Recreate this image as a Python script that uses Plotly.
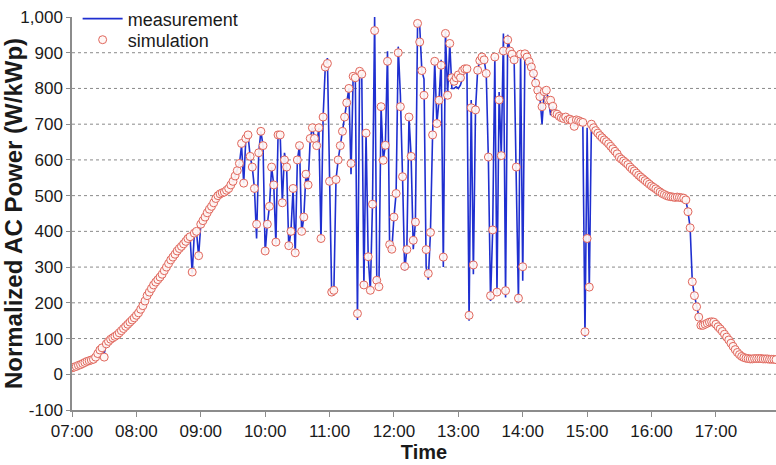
import numpy as np
import pandas as pd
import plotly.graph_objects as go

# ---------------- data ----------------
day = "2015-06-01"
sample_start = "07:00"
sample_step_min = 2

# normalized AC power, measurement (W/kWp), one value every 2 minutes from 07:00
measurement = [
    18, 20, 22, 25, 27, 30, 33, 36, 38, 40,          # 07:00
    42, 48, 58, 68, 74, 58, 85, 92, 98, 102,         # 07:20
    106, 110, 116, 122, 128, 134, 140, 146, 152, 158,  # 07:40
    165, 172, 182, 192, 205, 220, 230, 240, 250, 258,  # 08:00
    265, 272, 280, 290, 300, 310, 320, 328, 336, 345,  # 08:20
    352, 358, 365, 372, 380, 385, 282, 395, 400, 330,  # 08:40
    420, 430, 440, 452, 462, 470, 480, 492, 500, 505,  # 09:00
    508, 510, 515, 520, 530, 540, 555, 570, 590, 640,  # 09:20
    535, 660, 670, 610, 580, 520, 380, 620, 680, 640,  # 09:40
    340, 420, 470, 580, 530, 365, 670, 670, 480, 620,  # 10:00
    580, 355, 400, 520, 335, 600, 640, 395, 440, 560,  # 10:20
    530, 660, 690, 660, 640, 690, 375, 720, 860, 885,  # 10:40
    540, 222, 228, 545, 600, 640, 680, 720, 760, 800,  # 11:00
    560, 834, 830, 152, 848, 840, 245, 675, 329, 235,  # 11:20
    476, 1000, 263, 245, 749, 599, 641, 904, 345, 347,  # 11:40
    440, 506, 917, 781, 553, 290, 349, 720, 610, 350,  # 12:00
    426, 982, 975, 850, 826, 300, 265, 397, 670, 876,  # 12:20
    702, 767, 880, 300, 960, 781, 926, 800, 800, 805,  # 12:40
    800, 810, 830, 855, 855, 150, 768, 280, 740, 851,  # 13:00
    878, 888, 880, 842, 600, 205, 404, 888, 225, 790,  # 13:20
    612, 954, 215, 950, 905, 896, 880, 560, 200, 896,  # 13:40
    262, 897, 888, 875, 860, 842, 815, 795, 777, 700,  # 14:00
    791, 795, 767, 725, 750, 730, 728, 722, 718, 716,  # 14:20
    720, 712, 714, 710, 694, 712, 710, 707, 700, 105,  # 14:40
    690, 235, 700, 690, 682, 675, 668, 662, 656, 651,  # 15:00
    645, 638, 631, 624, 617, 607, 602, 597, 592, 587,  # 15:20
    580, 574, 569, 563, 557, 552, 547, 542, 537, 532,  # 15:40
    527, 523, 519, 514, 510, 506, 503, 500, 498, 497,  # 16:00
    496, 495, 496, 495, 494, 493, 488, 455, 410, 259,  # 16:20
    220, 189, 160, 137, 137, 140, 143, 146, 147, 146,  # 16:40
    140, 133, 127, 120, 112, 104, 96, 87, 78, 69,      # 17:00
    61, 55, 50, 47, 45, 44, 43, 43, 44, 44,            # 17:20
    44, 44, 43, 43, 43, 42, 42, 42, 41,                # 17:40
]

# normalized AC power, simulation (W/kWp), same sampling
simulation = [
    18, 20, 22, 25, 27, 30, 33, 36, 38, 40,
    42, 48, 58, 68, 74, 48, 85, 92, 98, 102,
    106, 110, 116, 122, 128, 134, 140, 146, 152, 158,
    165, 172, 182, 192, 205, 220, 230, 240, 250, 258,
    265, 272, 280, 290, 300, 310, 320, 328, 336, 345,
    352, 358, 365, 372, 380, 385, 286, 395, 400, 332,
    420, 430, 440, 452, 462, 470, 480, 492, 500, 505,
    508, 510, 515, 520, 530, 540, 555, 570, 590, 646,
    535, 660, 670, 610, 580, 520, 420, 620, 680, 640,
    345, 420, 470, 580, 530, 370, 670, 670, 480, 600,
    580, 360, 400, 520, 340, 600, 640, 400, 440, 560,
    530, 660, 690, 660, 640, 690, 380, 720, 860, 870,
    540, 230, 235, 545, 600, 640, 680, 720, 760, 800,
    590, 834, 830, 170, 848, 840, 250, 675, 329, 235,
    476, 962, 263, 245, 749, 599, 641, 876, 363, 350,
    440, 506, 900, 749, 553, 302, 349, 720, 610, 375,
    426, 982, 930, 850, 781, 349, 282, 397, 670, 876,
    702, 767, 865, 328, 954, 781, 926, 830, 820, 830,
    838, 830, 850, 855, 855, 165, 746, 306, 740, 851,
    878, 888, 880, 842, 608, 220, 404, 888, 230, 768,
    612, 905, 234, 936, 905, 896, 880, 580, 213, 896,
    301, 897, 888, 875, 860, 842, 815, 795, 777, 749,
    791, 795, 767, 767, 750, 730, 728, 722, 718, 716,
    720, 712, 714, 710, 694, 712, 710, 707, 705, 119,
    380, 244, 700, 690, 682, 675, 668, 662, 656, 651,
    645, 638, 631, 624, 617, 607, 602, 597, 592, 587,
    580, 574, 569, 563, 557, 552, 547, 542, 537, 532,
    527, 523, 519, 514, 510, 506, 503, 500, 498, 497,
    496, 495, 496, 495, 494, 493, 488, 455, 410, 259,
    220, 189, 160, 137, 137, 140, 143, 146, 147, 146,
    140, 133, 127, 120, 112, 104, 96, 87, 78, 69,
    61, 55, 50, 47, 45, 44, 43, 43, 44, 44,
    44, 44, 43, 43, 43, 42, 42, 42, 41,
]

x_tick_labels = ["07:00", "08:00", "09:00", "10:00", "11:00", "12:00",
                 "13:00", "14:00", "15:00", "16:00", "17:00"]
x_end = "17:56"
y_tick_values = [-100, 0, 100, 200, 300, 400, 500, 600, 700, 800, 900, 1000]
y_tick_labels = ["-100", "0", "100", "200", "300", "400", "500",
                 "600", "700", "800", "900", "1,000"]
grid_values = [0, 100, 200, 300, 400, 500, 600, 700, 800, 900]

# ---------------- figure ----------------
times = pd.Timestamp(f"{day} {sample_start}") + pd.to_timedelta(
    np.arange(len(measurement)) * sample_step_min, unit="min")

font_family = "Liberation Sans, Arial, sans-serif"

fig = go.Figure()
fig.add_trace(go.Scatter(
    x=times, y=measurement, mode="lines", name="measurement",
    line=dict(color="#1f2fd0", width=1.6), legend="legend",
))
fig.add_trace(go.Scatter(
    x=times, y=simulation, mode="markers", name="simulation",
    marker=dict(symbol="circle", size=8, color="rgba(255,246,244,0.92)",
                line=dict(color="#e0665c", width=1)),
    legend="legend2",
))

for g in grid_values:
    fig.add_shape(type="line", xref="paper", x0=0, x1=1, yref="y", y0=g, y1=g,
                  line=dict(color="#8a8a8a", width=1, dash="dot"), layer="below")

legend_style = dict(xanchor="left", yanchor="middle", bgcolor="rgba(0,0,0,0)",
                    font=dict(size=18, color="#1a1a1a"), itemwidth=40)

fig.update_layout(
    width=776, height=465,
    margin=dict(l=72, r=0, t=17, b=55, autoexpand=False),
    paper_bgcolor="white", plot_bgcolor="white",
    font=dict(family=font_family, size=17, color="#1a1a1a"),
    showlegend=True,
    legend=dict(x=0.008, y=0.995, **legend_style),
    legend2=dict(x=0.008, y=0.9415, **legend_style),
    xaxis=dict(
        type="date",
        range=[f"{day} {x_tick_labels[0]}", f"{day} {x_end}"],
        tickvals=[f"{day} {t}" for t in x_tick_labels],
        ticktext=x_tick_labels,
        showgrid=False, zeroline=False,
        showline=True, linecolor="#8c8c8c", linewidth=1.5,
        ticks="outside", ticklen=5, tickcolor="#8c8c8c",
        tickfont=dict(size=17),
        automargin=False,
        title=dict(text="<b>Time</b>", font=dict(size=20), standoff=3),
    ),
    yaxis=dict(
        range=[-100, 1000],
        tickvals=y_tick_values, ticktext=y_tick_labels,
        showgrid=False, zeroline=False,
        showline=True, linecolor="#8c8c8c", linewidth=1.5,
        ticks="outside", ticklen=4, tickcolor="#8c8c8c",
        tickfont=dict(size=17),
        automargin=False,
        title=dict(text="<b>Normalized AC Power (W/kWp)</b>", font=dict(size=24),
                   standoff=5),
    ),
)

fig.write_html(
    "out.html",
    config={"displayModeBar": False},
    post_script="document.body.style.margin='0';document.body.style.overflow='hidden';",
)
